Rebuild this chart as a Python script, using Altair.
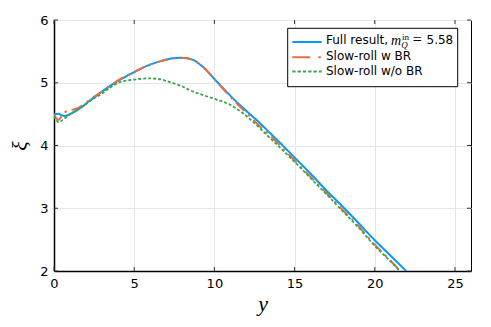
import altair as alt
import pandas as pd

# ---- data ----
y_full = [0.0, 0.27, 0.48, 0.69, 1.0, 1.42, 1.83, 2.25, 3.0, 3.5, 4.2, 5.0, 5.8, 6.6, 7.3,
          7.85, 8.3, 8.7, 9.3, 10.0, 10.7, 11.4, 12.0, 12.7, 13.5, 14.3, 15.0, 16.0, 17.0,
          18.1, 19.0, 20.0, 21.0, 22.0]
xi_full = [4.49, 4.505, 4.48, 4.47, 4.50, 4.56, 4.63, 4.72, 4.86, 4.95, 5.06, 5.17, 5.27, 5.34,
           5.385, 5.40, 5.39, 5.36, 5.25, 5.06, 4.87, 4.69, 4.55, 4.39, 4.19, 3.99, 3.81, 3.55,
           3.28, 3.0, 2.76, 2.49, 2.24, 1.99]

y_br = [0.0, 0.15, 0.3, 0.48, 0.69, 1.0, 1.42, 1.83, 2.25, 3.0, 3.5, 4.2, 5.0, 5.8, 6.6, 7.3,
        7.85, 8.3, 8.7, 9.3, 10.0, 10.7, 11.4, 12.0, 12.7, 13.5, 14.3, 15.0, 16.0, 17.0, 17.9,
        19.0, 20.0, 21.0, 21.6]
xi_br = [4.50, 4.43, 4.41, 4.47, 4.53, 4.56, 4.59, 4.65, 4.73, 4.86, 4.95, 5.07, 5.17, 5.27,
         5.34, 5.385, 5.40, 5.39, 5.36, 5.25, 5.06, 4.86, 4.67, 4.52, 4.34, 4.15, 3.95, 3.76,
         3.50, 3.24, 3.0, 2.71, 2.42, 2.16, 2.0]

y_nobr = [0.0, 0.15, 0.3, 0.55, 0.8, 1.0, 1.42, 1.83, 2.25, 3.0, 3.48, 4.1, 5.0, 5.88, 6.5,
          7.23, 8.0, 8.48, 9.1, 10.0, 10.98, 11.8, 12.65, 13.26, 14.0, 15.0, 16.0, 17.0,
          17.82, 19.0, 20.0, 21.0, 21.56]
xi_nobr = [4.47, 4.40, 4.37, 4.41, 4.46, 4.50, 4.56, 4.63, 4.71, 4.83, 4.92, 5.01, 5.05, 5.07,
           5.06, 5.01, 4.94, 4.88, 4.82, 4.745, 4.65, 4.51, 4.32, 4.17, 3.99, 3.74, 3.48, 3.22,
           3.0, 2.69, 2.40, 2.15, 2.0]

x_ticks = [0, 5, 10, 15, 20, 25]
y_ticks = [2, 3, 4, 5, 6]

legend_labels = ["Full result, ", "Slow-roll w BR", "Slow-roll w/o BR"]
colors = ["#009AFA", "#E36F47", "#3EA44E"]

W, H = 417, 251

xscale = alt.Scale(domain=[0, 26], nice=False, zero=False)
yscale = alt.Scale(domain=[2, 6], nice=False, zero=False)

common_axis = dict(grid=True, ticks=False, gridColor="#e6e6e6", gridWidth=1,
                   domainColor="black", domainWidth=1.5, labelFont="DejaVu Sans",
                   labelFontSize=13, labelColor="black", labelFlush=False,
                   titleFont="Liberation Serif", titleFontStyle="italic",
                   titleFontWeight="normal", titleFontSize=22, titleColor="black")
xaxis = alt.Axis(values=x_ticks, title="y", labelPadding=6, titlePadding=3, **common_axis)
yaxis = alt.Axis(values=y_ticks, title="ξ", labelPadding=6, titlePadding=8, **common_axis)


def X(field):
    return alt.X(f"{field}:Q", scale=xscale, axis=xaxis)


def Y(field):
    return alt.Y(f"{field}:Q", scale=yscale, axis=yaxis)


df_full = pd.DataFrame({"y": y_full, "xi": xi_full})
df_br = pd.DataFrame({"y": y_br, "xi": xi_br})
df_nobr = pd.DataFrame({"y": y_nobr, "xi": xi_nobr})

line_full = alt.Chart(df_full).mark_line(
    color=colors[0], strokeWidth=2, clip=True, interpolate="monotone"
).encode(x=X("y"), y=Y("xi"), order="y:Q")

line_br = alt.Chart(df_br).mark_line(
    color=colors[1], strokeWidth=2, clip=True, interpolate="monotone",
    strokeDash=[12, 5, 2.5, 5]
).encode(x=X("y"), y=Y("xi"), order="y:Q")

line_nobr = alt.Chart(df_nobr).mark_line(
    color=colors[2], strokeWidth=1.8, clip=True, interpolate="monotone",
    strokeDash=[3, 2]
).encode(x=X("y"), y=Y("xi"), order="y:Q")

# inward ticks on all four sides
dfx = pd.DataFrame({"y": x_ticks})
dfy = pd.DataFrame({"xi": y_ticks})
tick_style = dict(color="#333333", strokeWidth=1)
tx_bottom = alt.Chart(dfx).mark_rule(**tick_style).encode(
    x=X("y"), y=alt.value(H), y2=alt.value(H - 4))
tx_top = alt.Chart(dfx).mark_rule(**tick_style).encode(
    x=X("y"), y=alt.value(0), y2=alt.value(4))
ty_left = alt.Chart(dfy).mark_rule(**tick_style).encode(
    y=Y("xi"), x=alt.value(0), x2=alt.value(4))
ty_right = alt.Chart(dfy).mark_rule(**tick_style).encode(
    y=Y("xi"), x=alt.value(W - 4), x2=alt.value(W))

# ---- legend ----
leg_box = alt.Chart(pd.DataFrame({"a": [0]})).mark_rect(
    fill="white", stroke="black", strokeWidth=1
).encode(x=alt.value(233.7), x2=alt.value(403.7), y=alt.value(8.3), y2=alt.value(66.7))

row_line_y = [22.0, 37.3, 51.5]
row_text_y = [24.4, 40.2, 55.2]
leg_dash = [None, [18, 8, 2.5, 4], [3.3, 2]]
leg_layers = [leg_box]
for i in range(3):
    kw = dict(color=colors[i], strokeWidth=2)
    if leg_dash[i] is not None:
        kw["strokeDash"] = leg_dash[i]
    leg_layers.append(
        alt.Chart(pd.DataFrame({"a": [0]})).mark_rule(**kw).encode(
            x=alt.value(238.3), x2=alt.value(267.7), y=alt.value(row_line_y[i])))
    leg_layers.append(
        alt.Chart(pd.DataFrame({"a": [0]})).mark_text(
            text=legend_labels[i], align="left", baseline="alphabetic",
            font="DejaVu Sans", fontSize=12, color="black"
        ).encode(x=alt.value(272), y=alt.value(row_text_y[i])))

math_parts = [
    ("m", 337.0, 24.6, "Liberation Serif", 14, "italic"),
    ("in", 348.0, 19.6, "Liberation Serif", 9, "normal"),
    ("Q", 347.2, 28.3, "Liberation Serif", 9, "italic"),
    ("=", 358.8, 25.0, "Liberation Serif", 16, "normal"),
    ("5.58", 372.5, 24.4, "DejaVu Sans", 12, "normal"),
]
for txt, px, py, fnt, fs, st in math_parts:
    leg_layers.append(
        alt.Chart(pd.DataFrame({"a": [0]})).mark_text(
            text=txt, align="left", baseline="alphabetic", font=fnt,
            fontSize=fs, fontStyle=st, color="black"
        ).encode(x=alt.value(px), y=alt.value(py)))

chart = alt.layer(
    line_full, line_br, line_nobr, tx_bottom, tx_top, ty_left, ty_right, *leg_layers
).properties(
    width=W, height=H,
    autosize=alt.AutoSizeParams(type="none"),
    padding={"left": 46, "top": 12, "right": 12, "bottom": 56},
).configure_view(stroke="black", strokeWidth=1)

chart.save("out.html", embed_options={"renderer": "svg", "actions": False})
